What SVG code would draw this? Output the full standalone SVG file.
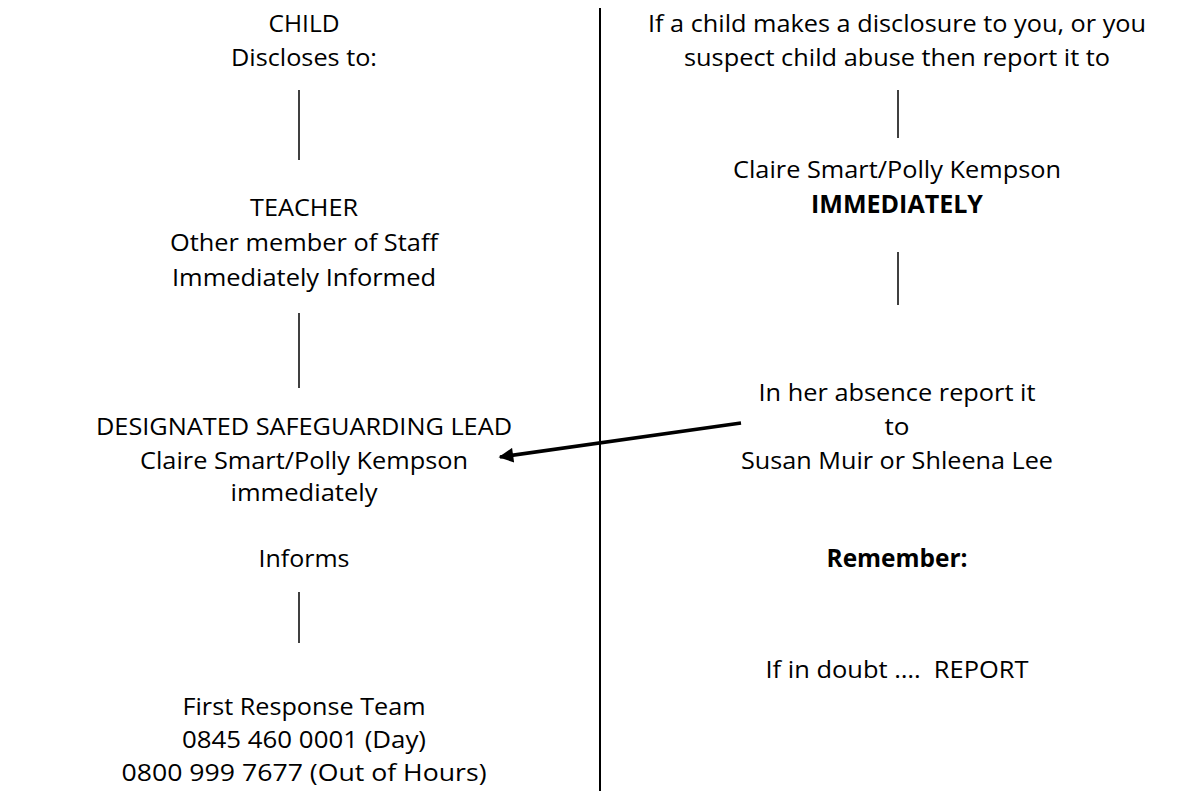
<svg xmlns="http://www.w3.org/2000/svg" width="1183" height="791" viewBox="0 0 1183 791">
<defs>
<style>
text{font-family:"Open Sans",Lato,"Liberation Sans",sans-serif;font-size:24.5px;fill:#000;text-anchor:middle}
.b{font-weight:bold}
.ln{stroke:#000;stroke-width:1.5;fill:none}
</style>
<marker id="ah" viewBox="0 0 10 10" refX="9" refY="5" markerWidth="5.2" markerHeight="4.2" orient="auto" markerUnits="strokeWidth">
<path d="M0,0 L10,5 L0,10 Z" fill="#000"/>
</marker>
</defs>
<rect width="1183" height="791" fill="#fff"/>
<line x1="600" y1="8" x2="600" y2="791" stroke="#000" stroke-width="2"/>
<g id="child"><text x="304" y="32" textLength="71" lengthAdjust="spacingAndGlyphs">CHILD</text><text x="304" y="66" textLength="146" lengthAdjust="spacingAndGlyphs">Discloses to:</text></g>
<g id="teacher"><text x="304" y="216" textLength="108" lengthAdjust="spacingAndGlyphs">TEACHER</text><text x="304" y="251" textLength="268" lengthAdjust="spacingAndGlyphs">Other member of Staff</text><text x="304" y="286" textLength="264" lengthAdjust="spacingAndGlyphs">Immediately Informed</text></g>
<g id="dsl"><text x="304" y="435" textLength="416" lengthAdjust="spacingAndGlyphs">DESIGNATED SAFEGUARDING LEAD</text><text x="304" y="469" textLength="328" lengthAdjust="spacingAndGlyphs">Claire Smart/Polly Kempson</text><text x="304" y="501" textLength="147" lengthAdjust="spacingAndGlyphs">immediately</text></g>
<g id="informs"><text x="304" y="567" textLength="91" lengthAdjust="spacingAndGlyphs">Informs</text></g>
<g id="frt"><text x="304" y="715" textLength="243" lengthAdjust="spacingAndGlyphs">First Response Team</text><text x="304" y="748" textLength="244" lengthAdjust="spacingAndGlyphs">0845 460 0001 (Day)</text><text x="304" y="781" textLength="365" lengthAdjust="spacingAndGlyphs">0800 999 7677 (Out of Hours)</text></g>
<g id="intro"><text x="897" y="32" textLength="498" lengthAdjust="spacingAndGlyphs">If a child makes a disclosure to you, or you</text><text x="897" y="66" textLength="426" lengthAdjust="spacingAndGlyphs">suspect child abuse then report it to</text></g>
<g id="claire"><text x="897" y="178" textLength="328" lengthAdjust="spacingAndGlyphs">Claire Smart/Polly Kempson</text><text x="897" y="213" class="b" textLength="172" lengthAdjust="spacingAndGlyphs">IMMEDIATELY</text></g>
<g id="absence"><text x="897" y="401" textLength="277" lengthAdjust="spacingAndGlyphs">In her absence report it</text><text x="897" y="435" textLength="25" lengthAdjust="spacingAndGlyphs">to</text><text x="897" y="469" textLength="312" lengthAdjust="spacingAndGlyphs">Susan Muir or Shleena Lee</text></g>
<g id="remember"><text x="897" y="567" class="b" textLength="141" lengthAdjust="spacingAndGlyphs">Remember:</text></g>
<g id="doubt"><text x="897" y="678" textLength="263" lengthAdjust="spacingAndGlyphs">If in doubt …. &#160;REPORT</text></g>
<g id="connectors">
<line class="ln" x1="299" y1="90" x2="299" y2="160"/>
<line class="ln" x1="299" y1="313" x2="299" y2="388"/>
<line class="ln" x1="299" y1="592" x2="299" y2="643"/>
<line class="ln" x1="898" y1="90" x2="898" y2="138"/>
<line class="ln" x1="898" y1="252" x2="898" y2="305"/>
<line x1="741" y1="423" x2="500" y2="457" stroke="#000" stroke-width="3.5" marker-end="url(#ah)"/>
</g>
</svg>
